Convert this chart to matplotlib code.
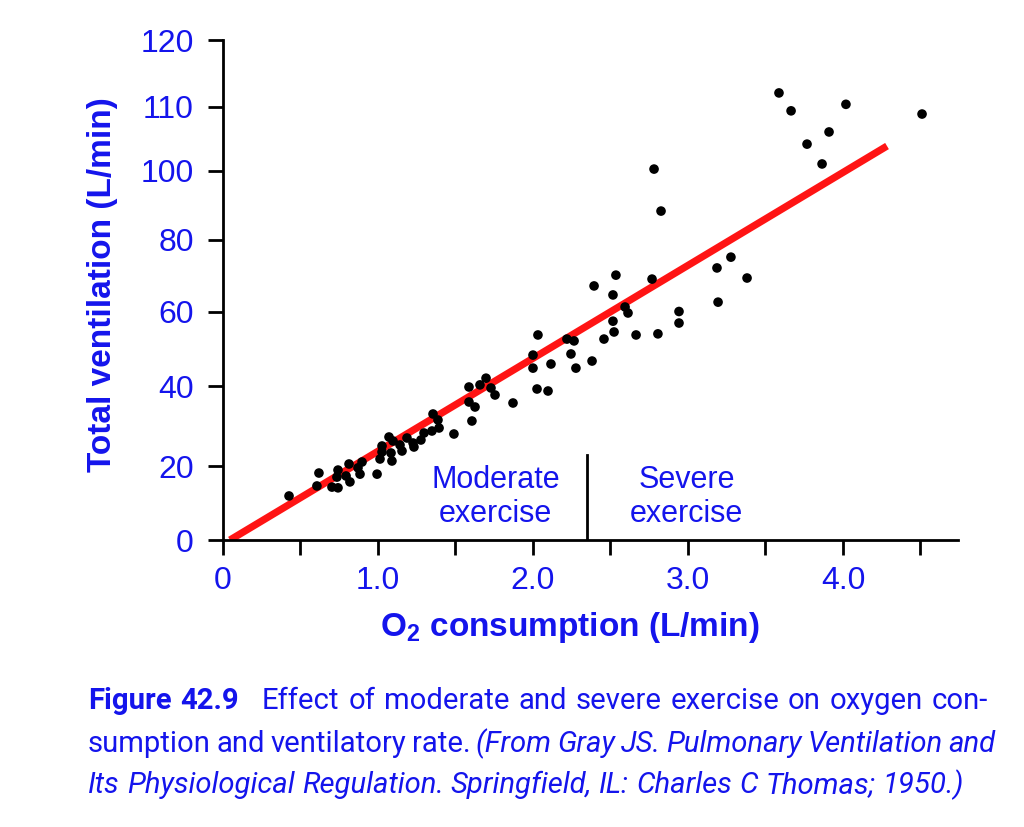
import numpy as np
import matplotlib
matplotlib.use("Agg")
import matplotlib.pyplot as plt

# ---------------- data ----------------
o2_consumption = [
    0.426, 0.619, 0.606, 0.703, 0.742, 0.742, 0.735, 0.813, 0.794, 0.819,
    0.871, 0.897, 0.884, 0.994, 1.013, 1.026, 1.026, 1.071, 1.084, 1.090,
    1.097, 1.142, 1.155, 1.187, 1.226, 1.232, 1.277, 1.297, 1.348, 1.394,
    1.355, 1.387, 1.490, 1.587, 1.587, 1.606, 1.626, 1.658, 1.697, 1.729,
    1.755, 1.871,
    2.000, 2.032, 2.000, 2.026, 2.097, 2.116, 2.219, 2.265, 2.245, 2.277,
    2.381, 2.394, 2.516, 2.535, 2.594, 2.613, 2.516, 2.523, 2.458, 2.665,
    2.768, 2.806, 2.942, 2.942, 3.187, 3.277, 3.381, 3.194, 2.781, 2.826,
    3.587, 3.665, 4.019, 4.510, 3.910, 3.768, 3.865,
]
ventilation = [
    11.9, 18.1, 14.6, 14.3, 14.1, 18.9, 17.0, 20.5, 17.3, 15.7,
    19.5, 21.0, 17.8, 17.8, 21.75, 23.5, 25.0, 27.25, 23.25, 21.25,
    26.25, 25.25, 23.75, 27.0, 25.75, 24.75, 26.5, 28.25, 28.75, 29.5,
    33.0, 31.5, 28.0, 39.75, 36.0, 31.25, 34.75, 40.3, 42.1, 39.5,
    37.75, 35.75,
    48.3, 53.7, 44.8, 39.25, 38.75, 45.9, 52.6, 52.1, 48.6, 44.8,
    46.7, 67.1, 64.6, 70.1, 61.25, 59.6, 57.4, 54.5, 52.6, 53.7,
    69.0, 54.0, 60.0, 56.9, 72.1, 75.1, 69.3, 62.6, 100.3, 88.3,
    112.1, 109.4, 110.4, 108.9, 106.1, 104.2, 101.1,
]
fit_x = [0.045, 4.284]
fit_y = [0.0, 103.9]
boundary_x = 2.348
boundary_top = 22.75

y_tick_values = [0, 20, 40, 60, 80, 100, 110, 120]
y_tick_labels = ["0", "20", "40", "60", "80", "100", "110", "120"]
x_tick_values = [0, 0.5, 1.0, 1.5, 2.0, 2.5, 3.0, 3.5, 4.0, 4.5]
x_tick_labels = ["0", "", "1.0", "", "2.0", "", "3.0", "", "4.0", ""]

x_label = "O$_2$ consumption (L/min)"
y_label = "Total ventilation (L/min)"
zone_labels = ["Moderate\nexercise", "Severe\nexercise"]
zone_label_x = [1.76, 2.99]

caption_lines = [
    [("Figure 42.9", "bold"), ("Effect of moderate and severe exercise on oxygen con-", "normal")],
    [("sumption and ventilatory rate.", "normal"), ("(From Gray JS. Pulmonary Ventilation and", "italic")],
    [("Its Physiological Regulation. Springfield, IL: Charles C Thomas; 1950.)", "italic")],
]

# ---------------- styling ----------------
BLUE = "#1414ec"
RED = "#ff1414"
plt.rcParams["font.family"] = ["Liberation Sans", "DejaVu Sans"]
plt.rcParams["mathtext.fontset"] = "custom"
plt.rcParams["mathtext.rm"] = "Liberation Sans:bold"
plt.rcParams["mathtext.it"] = "Liberation Sans:bold"
plt.rcParams["mathtext.bf"] = "Liberation Sans:bold"
plt.rcParams["mathtext.default"] = "rm"

# non-uniform vertical scale of the original figure (tick spacing in px)
scale_vals = np.array([0, 20, 40, 60, 80, 100, 110, 120], float)
scale_pos = np.array([0, 74, 154, 228.5, 300.5, 369, 433, 500], float)


def _interp_ext(v, xs, ys):
    v = np.asarray(v, float)
    out = np.interp(v, xs, ys)
    lo_s = (ys[1] - ys[0]) / (xs[1] - xs[0])
    hi_s = (ys[-1] - ys[-2]) / (xs[-1] - xs[-2])
    out = np.where(v < xs[0], ys[0] + (v - xs[0]) * lo_s, out)
    out = np.where(v > xs[-1], ys[-1] + (v - xs[-1]) * hi_s, out)
    return out


def fwd(v):
    return _interp_ext(v, scale_vals, scale_pos)


def inv(p):
    return _interp_ext(p, scale_pos, scale_vals)


W, H = 1024, 827
fig = plt.figure(figsize=(W / 100, H / 100), dpi=100)
fig.patch.set_facecolor("white")
ax = fig.add_axes([223 / W, (H - 540) / H, (958 - 223) / W, (540 - 40) / H])
ax.set_yscale("function", functions=(fwd, inv))
ax.set_xlim(0, 4.742)
ax.set_ylim(0, 120)

ax.plot(fit_x, fit_y, color=RED, lw=5.2, solid_capstyle="butt", zorder=2)
ax.scatter(o2_consumption, ventilation, s=48, color="black", edgecolors="none", zorder=3)
ax.plot([boundary_x, boundary_x], [0, boundary_top], color="black", lw=2, zorder=2)

for lab, xx in zip(zone_labels, zone_label_x):
    ax.text(xx, 11.6, lab, ha="center", va="center", multialignment="center",
            fontsize=22, color=BLUE, linespacing=1.18)

for s in ["top", "right"]:
    ax.spines[s].set_visible(False)
for s in ["left", "bottom"]:
    ax.spines[s].set_linewidth(2.0)
ax.set_yticks(y_tick_values)
ax.set_yticklabels(y_tick_labels)
ax.set_xticks(x_tick_values)
ax.set_xticklabels(x_tick_labels)
ax.yaxis.set_minor_locator(matplotlib.ticker.NullLocator())
ax.xaxis.set_minor_locator(matplotlib.ticker.NullLocator())
ax.tick_params(axis="both", direction="out", width=2.0, length=11, colors="black",
               labelcolor=BLUE, labelsize=23)
ax.tick_params(axis="y", pad=10)
ax.tick_params(axis="x", pad=8)

fig.text(570 / W, (H - 636) / H, x_label, ha="center", va="baseline",
         fontsize=24, fontweight="bold", color=BLUE)
fig.text(103 / W, (H - 285) / H, y_label, ha="center", va="center", rotation=90,
         fontsize=24, fontweight="bold", color=BLUE)

# ---------------- caption (justified) ----------------
cap_family = ["Roboto", "DejaVu Sans"]
fig.canvas.draw()
renderer = fig.canvas.get_renderer()


def make(txt, style, size, x=0, y=0.5):
    kw = dict(fontsize=size, color=BLUE, family=cap_family, va="baseline", ha="left")
    if style == "bold":
        kw["fontweight"] = "bold"
    elif style == "italic":
        kw["fontstyle"] = "italic"
    return fig.text(x, y, txt, **kw)


def split_words(line):
    words, gaps = [], []
    for si, (seg, style) in enumerate(line):
        ws = seg.split(" ")
        for wi, w in enumerate(ws):
            words.append((w, style))
            if not (si == len(line) - 1 and wi == len(ws) - 1):
                gaps.append(2.6 if (style == "bold" and wi == len(ws) - 1) else 1.0)
    return words, gaps


def space_width(size):
    a = make("n n", "normal", size)
    b = make("nn", "normal", size)
    w = a.get_window_extent(renderer).width - b.get_window_extent(renderer).width
    a.remove()
    b.remove()
    return w


def natural_width(line, size, gap_factor=1.0):
    words, gaps = split_words(line)
    tot = 0
    for w, st in words:
        t = make(w, st, size)
        tot += t.get_window_extent(renderer).width
        t.remove()
    return tot + sum(gaps) * space_width(size) * gap_factor


ref_size = 20
cap_size = min(ref_size * 899 / natural_width(caption_lines[0], ref_size, 0.75),
               ref_size * 906 / natural_width(caption_lines[1], ref_size, 0.75),
               ref_size * 880 / natural_width(caption_lines[2], ref_size))

left_px = 88
targets = [988, 995, None]
baselines = [709, 752, 793]
sp_w = space_width(cap_size)

for line, tgt, base in zip(caption_lines, targets, baselines):
    words, gaps = split_words(line)
    arts = [make(w, st, cap_size, 0, (H - base) / H) for w, st in words]
    widths = [a.get_window_extent(renderer).width for a in arts]
    if tgt is None:
        unit = sp_w
    else:
        unit = (tgt - left_px - sum(widths)) / sum(gaps)
    xpos = left_px
    for i, a in enumerate(arts):
        a.set_x(xpos / W)
        xpos += widths[i]
        if i < len(gaps):
            xpos += gaps[i] * unit

fig.savefig("out.png", dpi=100, facecolor="white")
